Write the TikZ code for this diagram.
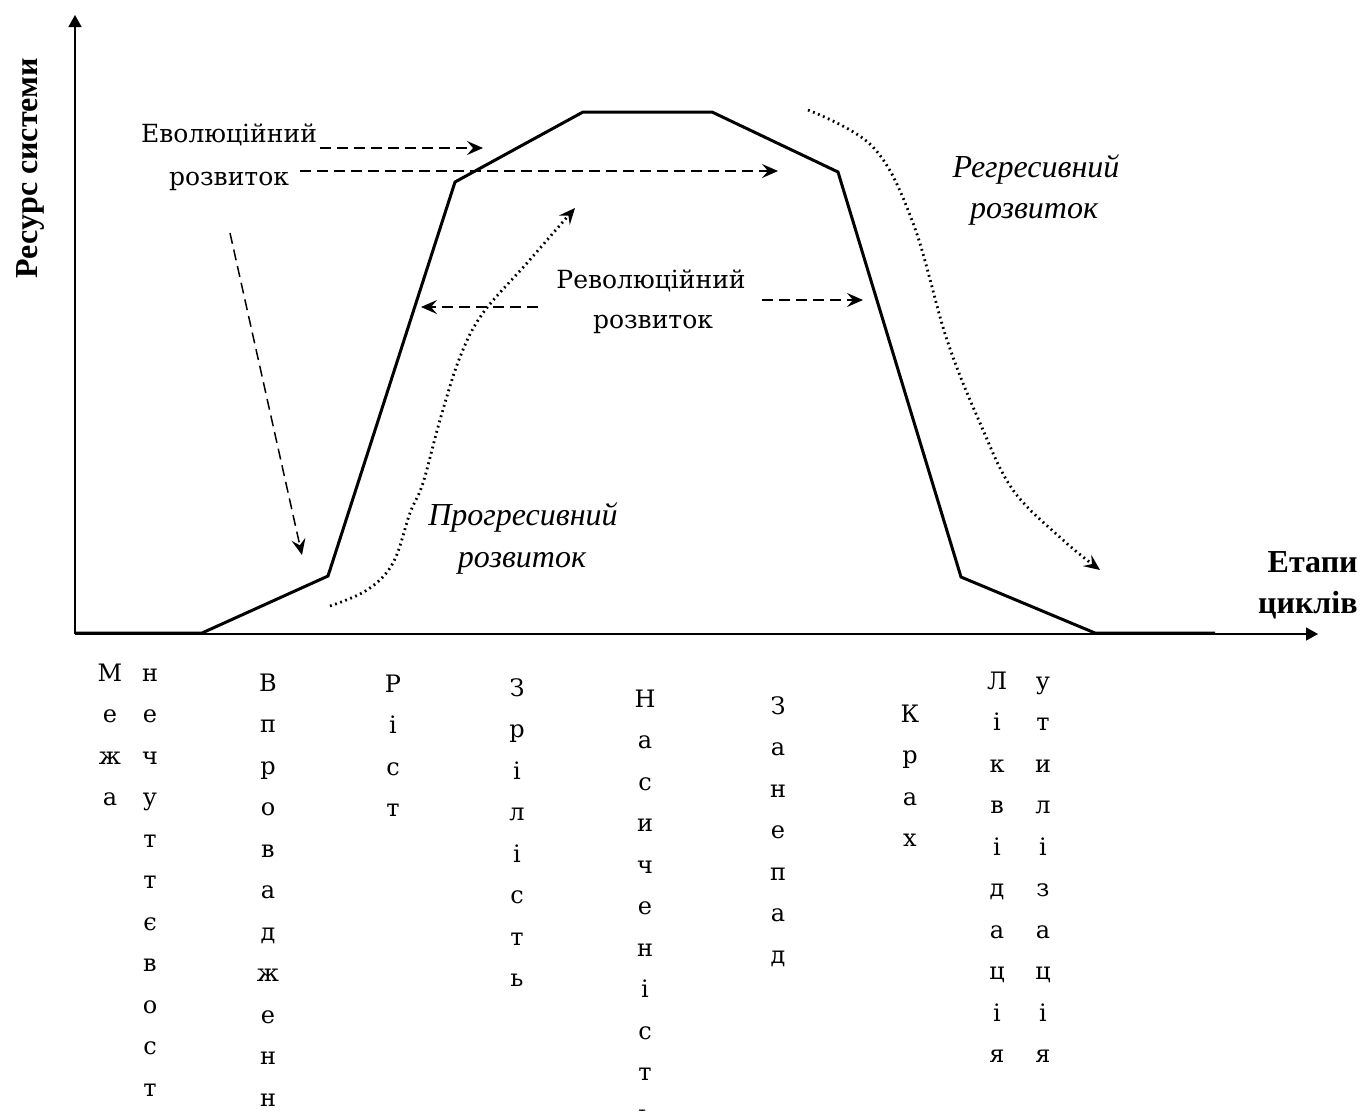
\documentclass[tikz,border=0pt]{standalone}
\usepackage{fontspec}
\setmainfont{Liberation Serif}
\newfontfamily\monof{DejaVu Serif}
\usetikzlibrary{arrows.meta}
\begin{document}
\begin{tikzpicture}[x=0.5pt,y=-0.5pt,
  curve/.style={line width=1.5pt, line join=miter},
  axis/.style={line width=0.8pt},
  dasharrow/.style={line width=0.75pt, dash pattern=on 5.5pt off 3pt, -{Stealth[length=8pt,width=7pt,inset=3pt]}},
  dotarrow/.style={line width=1.4pt, dash pattern=on 0.9pt off 1.8pt, -{Stealth[length=8pt,width=7pt,inset=3pt]}},
  lab/.style={font=\monof\fontsize{12.5}{16}\selectfont, inner sep=0pt, anchor=base},
  ilab/.style={font=\itshape\fontsize{16}{18}\selectfont, inner sep=0pt, anchor=base},
  blab/.style={font=\bfseries\fontsize{16}{20}\selectfont, inner sep=0pt},
  vlab/.style={font=\monof\fontsize{12}{20.75}\selectfont, align=center, inner sep=0pt, anchor=north}
]
\useasboundingbox (0,0) rectangle (1363,1110);
% axes
\coordinate (O) at (75,634);
\coordinate (ytop) at (75,15);
\coordinate (xend) at (1318,634);
\draw[axis,-{Triangle[length=6pt,width=6.5pt]}] (O) -- (ytop);
\draw[axis,-{Triangle[length=6pt,width=6.5pt]}] (O) -- (xend);
% main curve
\coordinate (c0) at (75,633);
\coordinate (c1) at (202,633);
\coordinate (c2) at (328,576);
\coordinate (c3) at (455,182);
\coordinate (c4) at (583,112);
\coordinate (c5) at (712,112);
\coordinate (c6) at (838,172);
\coordinate (c7) at (961,577);
\coordinate (c8) at (1095,633);
\coordinate (c9) at (1215,633);
\draw[curve] (c0) -- (c1) -- (c2) -- (c3) -- (c4) -- (c5) -- (c6) -- (c7) -- (c8) -- (c9);
% axis labels
\node[blab, rotate=90] (ylab) at (30,168) {Ресурс системи};
\node[blab, anchor=base east] (xlab1) at (1358,572) {Етапи};
\node[blab, anchor=base east] (xlab2) at (1358,613) {циклів};
% evolution
\node[lab] (evo1) at (229,142) {Еволюційний};
\node[lab] (evo2) at (229,185) {розвиток};
\coordinate (e1s) at (320,148);
\coordinate (e1t) at (483,148);
\coordinate (e2s) at (300,171);
\coordinate (e2t) at (778,171);
\coordinate (e3s) at (230,233);
\coordinate (e3t) at (302,555);
\draw[dasharrow] (e1s) -- (e1t);
\draw[dasharrow] (e2s) -- (e2t);
\draw[dasharrow] (e3s) -- (e3t);
% revolution
\node[lab] (rev1) at (651,288) {Революційний};
\node[lab] (rev2) at (653,328) {розвиток};
\coordinate (r1s) at (538,307);
\coordinate (r1t) at (421,307);
\coordinate (r2s) at (762,300);
\coordinate (r2t) at (863,300);
\draw[dasharrow] (r1s) -- (r1t);
\draw[dasharrow] (r2s) -- (r2t);
% progressive
\node[ilab] (pro1) at (523,525) {Прогресивний};
\node[ilab] (pro2) at (522,567) {розвиток};
\draw[dotarrow] plot[smooth, tension=0.6] coordinates {(330,606) (367,590) (393,563) (410,513) (423,483) (440,420) (460,357) (483,313) (527,263) (575,208)};
% regressive
\node[ilab] (reg1) at (1036,177) {Регресивний};
\node[ilab] (reg2) at (1034,218) {розвиток};
\draw[dotarrow] plot[smooth, tension=0.6] coordinates {(808,110) (873,147) (913,223) (947,340) (980,423) (1013,490) (1063,540) (1100,570)};
% stage labels (vertical)
\node[vlab] (s1) at (110,652) {\strut М\\е\\ж\\а};
\node[vlab] (s2) at (150,652) {\strut н\\е\\ч\\у\\т\\т\\є\\в\\о\\с\\т};
\node[vlab] (s3) at (268,662) {\strut В\\п\\р\\о\\в\\а\\д\\ж\\е\\н\\н};
\node[vlab] (s4) at (393,663) {\strut Р\\і\\с\\т};
\node[vlab] (s5) at (517,667) {\strut З\\р\\і\\л\\і\\с\\т\\ь};
\node[vlab] (s6) at (645,678) {\strut Н\\а\\с\\и\\ч\\е\\н\\і\\с\\т\\ь};
\node[vlab] (s7) at (778,685) {\strut З\\а\\н\\е\\п\\а\\д};
\node[vlab] (s8) at (910,693) {\strut К\\р\\а\\х};
\node[vlab] (s9) at (997,660) {\strut Л\\і\\к\\в\\і\\д\\а\\ц\\і\\я};
\node[vlab] (s10) at (1043,660) {\strut у\\т\\и\\л\\і\\з\\а\\ц\\і\\я};
\end{tikzpicture}
\end{document}
